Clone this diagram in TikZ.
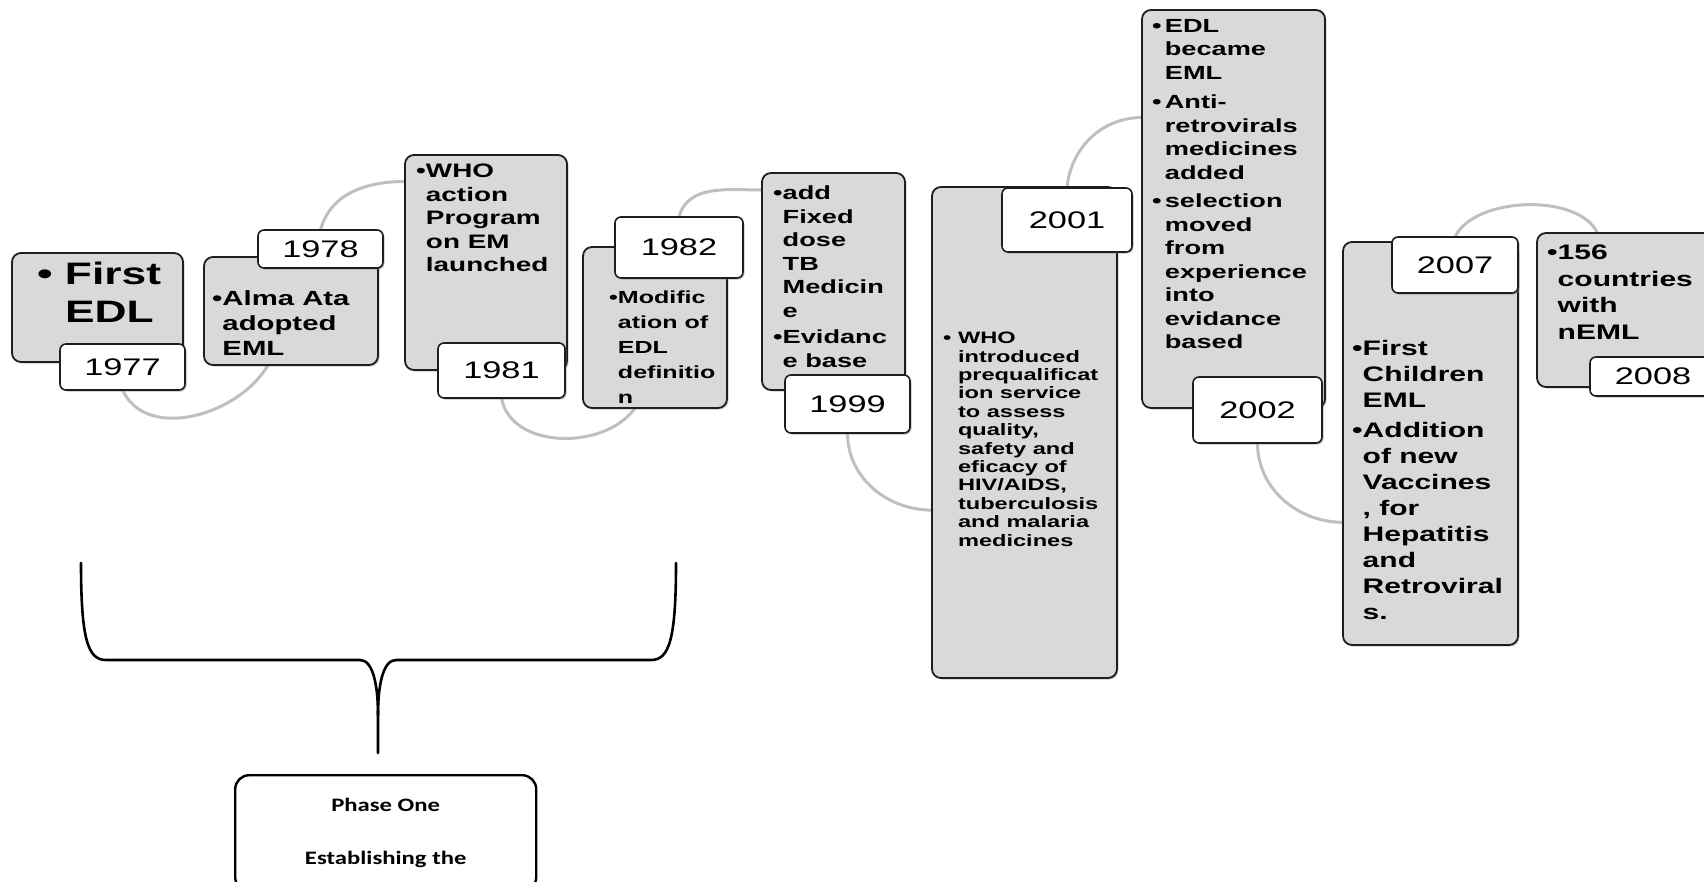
\documentclass[tikz,border=0pt]{standalone}
\usepackage{fontspec}
\setmainfont[FakeStretch=1.43]{Liberation Sans}
\newfontfamily\phasefont[FakeStretch=1.3]{Carlito}
\usetikzlibrary{shadows}
\pgfdeclarelayer{back}
\pgfsetlayers{back,main}
\definecolor{boxgray}{HTML}{D9D9D9}
\definecolor{arcgray}{HTML}{BFBFBF}
\definecolor{edge}{HTML}{1E1E1E}
\newcommand{\fs}[2]{\fontsize{#1}{#2}\selectfont}
\newcommand{\hang}{\phantom{•}}
\begin{document}
\begin{tikzpicture}[x=1pt, y=-1pt, line join=round, line cap=round,
	sz/.style 2 args={minimum width=#1pt, minimum height=#2pt},
	evbox/.style={draw=edge, line width=1.8pt, fill=boxgray, rounded corners=9pt, anchor=north west,
		inner sep=0pt, outer sep=0pt, drop shadow={shadow xshift=1.5pt, shadow yshift=-1.5pt, opacity=.4}},
	yrbox/.style={draw=edge, line width=1.6pt, fill=white, rounded corners=6pt, anchor=north west,
		inner sep=0pt, outer sep=0pt, font=\fs{24}{28}, drop shadow={shadow xshift=1.5pt, shadow yshift=-1.5pt, opacity=.5}},
	txt/.style={anchor=north west, align=left, inner sep=0pt},
	conn/.style={draw=arcgray, line width=3pt}]
	\useasboundingbox (0,0) rectangle (1704,881);
	% event boxes
	\node[evbox, sz={171}{109}] (b77) at (12,253) {};
	\node[evbox, sz={174}{108}] (b78) at (204,257) {};
	\node[evbox, sz={162}{215}] (b81) at (405,155) {};
	\node[evbox, sz={144}{161}] (b82) at (583,247) {};
	\node[evbox, sz={143}{217}] (b99) at (762,173) {};
	\node[evbox, sz={185}{491}] (b01) at (932,187) {};
	\node[evbox, sz={183}{398}] (b02) at (1142,10) {};
	\node[evbox, sz={175}{403}] (b07) at (1343,242) {};
	\node[evbox, sz={183}{154}] (b08) at (1537,233) {};
	% years
	\node[yrbox, sz={125}{46}] (y77) at (60,344) {1977};
	\node[yrbox, sz={125}{38}] (y78) at (258,230) {1978};
	\node[yrbox, sz={127}{55}] (y81) at (438,343) {1981};
	\node[yrbox, sz={128}{61}] (y82) at (615,217) {1982};
	\node[yrbox, sz={125}{58}] (y99) at (785,375) {1999};
	\node[yrbox, sz={130}{64}] (y01) at (1002,188) {2001};
	\node[yrbox, sz={129}{66}] (y02) at (1193,377) {2002};
	\node[yrbox, sz={126}{56}] (y07) at (1392,237) {2007};
	\node[yrbox, sz={126}{39}] (y08) at (1590,357) {2008};
	% texts
	\node[txt, font=\bfseries\fs{31}{38}] (t77) at (37,262) {• First\\\phantom{• }EDL};
	\node[txt, font=\bfseries\fs{20.5}{25}] (t78) at (212,290) {•Alma Ata\\\hang adopted\\\hang EML};
	\node[txt, font=\bfseries\fs{19.5}{23.5}] (t81) at (416,164) {•WHO\\\hang action\\\hang Program\\\hang on EM\\\hang launched};
	\node[txt, font=\bfseries\fs{17.5}{24.8}] (t82) at (609,291) {•Modific\\\hang ation of\\\hang EDL\\\hang definitio\\\hang n};
	\node[txt, font=\bfseries\fs{19}{23.5}] (t99) at (773,186) {•add\\\hang Fixed\\\hang dose\\\hang TB\\\hang Medicin\\\hang e\\[3pt]•Evidanc\\\hang e base};
	\node[txt, font=\bfseries\fs{16.5}{18.4}] (t01) at (943,332) {• WHO\\\phantom{• }introduced\\\phantom{• }prequalificat\\\phantom{• }ion service\\\phantom{• }to assess\\\phantom{• }quality,\\\phantom{• }safety and\\\phantom{• }eficacy of\\\phantom{• }HIV/AIDS,\\\phantom{• }tuberculosis\\\phantom{• }and malaria\\\phantom{• }medicines};
	\node[txt, font=\bfseries\fs{19}{23.5}] (t02) at (1152,19) {•\,EDL\\\phantom{•\,}became\\\phantom{•\,}EML\\[6pt]•\,Anti-\\\phantom{•\,}retrovirals\\\phantom{•\,}medicines\\\phantom{•\,}added\\[5pt]•\,selection\\\phantom{•\,}moved\\\phantom{•\,}from\\\phantom{•\,}experience\\\phantom{•\,}into\\\phantom{•\,}evidance\\\phantom{•\,}based};
	\node[txt, font=\bfseries\fs{21}{26}] (t07) at (1352,340) {•First\\\hang Children\\\hang EML\\[4pt]•Addition\\\hang of new\\\hang Vaccines\\\hang , for\\\hang Hepatitis\\\hang and\\\hang Retroviral\\\hang s.};
	\node[txt, font=\bfseries\fs{21}{26.5}] (t08) at (1547,245) {•156\\\hang countries\\\hang with\\\hang nEML};
	\begin{pgfonlayer}{back}
		\draw[conn] (y77.south) to[out=-65,in=-120] (b78.-113);
		\draw[conn] (y78.north) to[out=75,in=180] (b81.135);
		\draw[conn] (y81.south) to[out=-80,in=-125] (b82.-104);
		\draw[conn] (y82.north) to[out=75,in=180] (b99.128);
		\draw[conn] (y99.south) to[out=-90,in=180] (b01.220);
		\draw[conn] (y01.north) to[out=85,in=180] (b02.135);
		\draw[conn] (y02.south) to[out=-90,in=180] (b07.222);
		\draw[conn] (y07.north) to[out=65,in=115,looseness=.8] (b08.112);
	\end{pgfonlayer}
	% phase one
	\draw[line width=2.6pt] (81,563) .. controls (81,640) and (88,660) .. (106,660) -- (360,660)
		.. controls (373,660) and (378,685) .. (378,715) -- (378,753);
	\draw[line width=2.6pt] (676,563) .. controls (676,640) and (669,660) .. (651,660) -- (396,660)
		.. controls (383,660) and (378,685) .. (378,715);
	\node[draw, line width=2.4pt, rounded corners=14pt, sz={301}{116}, anchor=north west, inner sep=0pt,
		align=center, font=\phasefont\bfseries\fs{19}{53}] (ph) at (234,774) {Phase One\\Establishing the};
\end{tikzpicture}
\end{document}
